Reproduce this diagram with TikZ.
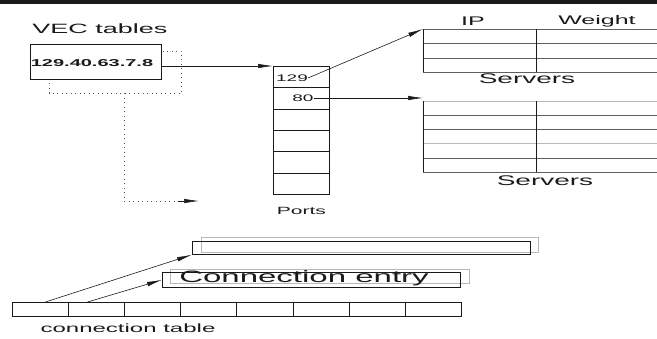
\documentclass[tikz,border=0pt]{standalone}
\usepackage{fontspec}
\setmainfont{Liberation Sans}
\usepackage{graphicx}
\usetikzlibrary{
  arrows.meta,
  calc,
  positioning
}
\definecolor{ink}{HTML}{1A1A1A}
\definecolor{rowline}{HTML}{5E5E5E}
\definecolor{faint}{HTML}{B8B8B8}
% xfig text is stretched sideways.
\newcommand{\wide}[1]{\scalebox{2}[1]{#1}}
\tikzset{
  caption/.style={
    inner sep=0pt,
    text=ink,
    font=\fontsize{#1}{#1}\selectfont
  },
  cell/.style={
    draw=ink,
    line width=0.7pt,
    inner sep=0pt
  },
  frame/.style={
    inner sep=0pt,
    anchor=north west
  },
  shade/.style={
    draw=faint,
    line width=0.7pt
  },
  pointer/.style={
    -{Latex[length=15pt,width=4.5pt]},
    draw=ink,
    line width=0.6pt
  },
  trace/.style={
    draw=ink!75,
    line width=0.9pt,
    dash pattern=on 1pt off 3.5pt
  }
}

\begin{document}
\begin{tikzpicture}[x=1pt,y=-1pt]
  \useasboundingbox (0,0) rectangle (657,338);
  \fill[ink] (0,0) rectangle (657,4);

  % VEC table entry.
  \node[caption=13.5] (vectitle) at (100,29) {\wide{VEC tables}};
  \node[cell, frame, minimum width=131pt, minimum height=35pt]
    (vec) at (30,44) {};
  \node[caption=10, font=\bfseries\fontsize{10}{10}\selectfont]
    (vecaddr) at (92,63) {\wide{129.40.63.7.8}};
  \draw[trace] (vec.north east) ++(1,7) -- ++(19,0) |- (49,93) -- (49,80);
  \coordinate (vecnext) at (199,201);
  \draw[trace] (124,93) |- (180,201);
  \draw[pointer] (178,201) -- (vecnext);

  % Port column.
  \foreach \i in {1,...,6}{
    \node[cell, frame, minimum width=56pt, minimum height=21.33pt]
      (port\i) at (273,{66+(\i-1)*21.33}) {};
  }
  \node[caption=10.5, below=12pt of port6] (portlbl) {\wide{Ports}};
  \node[caption=9.5] (p129) at (292,78) {\wide{129}};
  \node[caption=9.5] (p80) at (303,98) {\wide{80}};
  \draw[pointer] (vec.east |- port1.north) -- (port1.north west);

  % Server tables.
  \node[frame, minimum width=240pt, minimum height=43pt] (srvA) at (423,29) {};
  \node[frame, minimum width=240pt, minimum height=71pt] (srvB) at (423,101) {};
  \foreach \f in {0,0.333,0.667,1}{
    \draw[rowline, line width=0.7pt]
      ($(srvA.north west)!\f!(srvA.south west)$) -- ++(240,0);
  }
  \foreach \f/\c in {0/faint,0.2/rowline,0.4/rowline,0.6/faint,0.8/rowline,1/rowline}{
    \draw[\c, line width=0.7pt]
      ($(srvB.north west)!\f!(srvB.south west)$) -- ++(240,0);
  }
  \foreach \t in {srvA,srvB}{
    \draw[ink, line width=0.7pt] (\t.north west) -- (\t.south west);
    \draw[ink, line width=0.7pt]
      ($(\t.north west)+(113,0)$) -- ($(\t.south west)+(113,0)$);
  }
  \node[caption=12.5] (iphead) at (473,21) {\wide{IP}};
  \node[caption=12.5] (wthead) at (597,21) {\wide{Weight}};
  \node[caption=14] (srvAlbl) at (527,79) {\wide{Servers}};
  \node[caption=14] (srvBlbl) at (545,181) {\wide{Servers}};
  \draw[pointer] (p129.east) -- (srvA.north west);
  \draw[pointer] (p80.east) -- (p80.east -| srvB.west);

  % Connection table and its entries.
  \foreach \i in {1,...,8}{
    \node[cell, frame, minimum width=56.1pt, minimum height=14pt]
      (ct\i) at ({12+(\i-1)*56.1},302) {};
  }
  \node[caption=12] (ctlbl) at (128,328) {\wide{connection table}};
  \draw[shade] (201,237) rectangle (538,252);
  \node[cell, frame, minimum width=338pt, minimum height=13pt]
    (entA) at (192,241) {};
  \draw[shade] (170,269) rectangle (469,283);
  \node[cell, frame, minimum width=298pt, minimum height=15pt]
    (entB) at (162,272) {};
  \node[caption=16.5] (entBtext) at (304,278) {\wide{Connection entry}};
  \draw[pointer] ($(ct1.north)+(5,0)$) -- (entA.south west);
  \draw[pointer] ($(ct2.north)+(-9,0)$) -- (entB.west);
\end{tikzpicture}
\end{document}
